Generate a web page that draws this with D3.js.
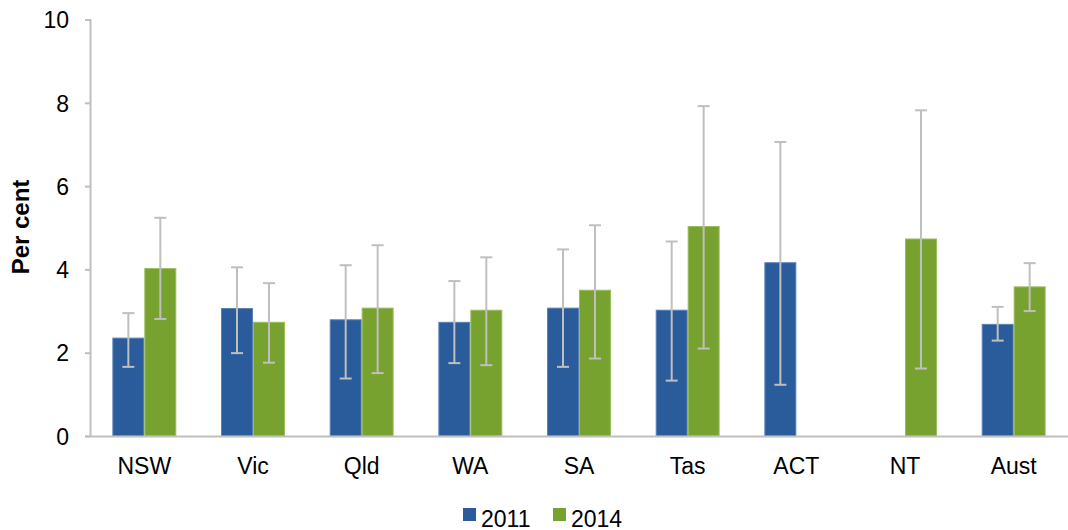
<!DOCTYPE html>
<html>
<head>
<meta charset="utf-8">
<script src="https://cdn.jsdelivr.net/npm/d3@7"></script>
<style>
  body { margin: 0; background: #fff; }
  svg text { font-family: "Liberation Sans", Arial, sans-serif; fill: #000; }
</style>
</head>
<body>
<div id="chart"></div>
<script>
// categories and series
var states = ["NSW", "Vic", "Qld", "WA", "SA", "Tas", "ACT", "NT", "Aust"];
var years = ["2011", "2014"];
var colors = ["#2a5b9b", "#78a22f"];
var strokes = ["#5a80b6", "#98bc5c"];

// values with lower / upper confidence bounds (null = not published)
var val2011 = [2.35, 3.06, 2.79, 2.73, 3.07, 3.02, 4.16, null, 2.68];
var lo2011  = [1.66, 1.99, 1.38, 1.75, 1.66, 1.33, 1.23, null, 2.29];
var hi2011  = [2.95, 4.05, 4.10, 3.72, 4.48, 4.67, 7.06, null, 3.10];
var val2014 = [4.02, 2.73, 3.07, 3.02, 3.50, 5.03, null, 4.73, 3.58];
var lo2014  = [2.81, 1.76, 1.51, 1.70, 1.86, 2.10, null, 1.62, 3.00];
var hi2014  = [5.24, 3.67, 4.58, 4.29, 5.06, 7.92, null, 7.82, 4.15];
var yTicks = [0, 2, 4, 6, 8, 10];

var width = 1068, height = 530;
var margin = {left: 90, right: 0, top: 19.5, bottom: 94};

var svg = d3.select("#chart").append("svg")
    .attr("width", width).attr("height", height);

var x = d3.scaleBand()
    .domain(states)
    .range([margin.left, width - margin.right])
    .padding(0);

var xs = d3.scaleBand()
    .domain(years)
    .range([0, x.bandwidth()])
    .paddingInner(0)
    .paddingOuter(0.7);

var y = d3.scaleLinear()
    .domain([0, 10])
    .range([height - margin.bottom, margin.top]);

// build rows
var rows = [];
states.forEach(function(s, i) {
    rows.push({state: s, year: "2011", k: 0, v: val2011[i], lo: lo2011[i], hi: hi2011[i]});
    rows.push({state: s, year: "2014", k: 1, v: val2014[i], lo: lo2014[i], hi: hi2014[i]});
});
rows = rows.filter(function(d) { return d.v != null; });

// bars
svg.append("g")
    .selectAll("rect")
    .data(rows)
    .enter()
    .append("rect")
        .attr("x", function(d) { return x(d.state) + xs(d.year) + 0.5; })
        .attr("y", function(d) { return y(d.v); })
        .attr("width", xs.bandwidth() - 1)
        .attr("height", function(d) { return y(0) - y(d.v); })
        .attr("fill", function(d) { return colors[d.k]; })
        .attr("stroke", function(d) { return strokes[d.k]; })
        .attr("stroke-width", 1);

// error bars
var eb = svg.append("g")
    .attr("stroke", "#bfbfbf")
    .attr("stroke-width", 2)
    .selectAll("g")
    .data(rows)
    .enter()
    .append("g")
        .attr("transform", function(d) {
            return "translate(" + (x(d.state) + xs(d.year) + xs.bandwidth() / 2) + ",0)";
        });
eb.append("line")
    .attr("y1", function(d) { return y(d.lo); })
    .attr("y2", function(d) { return y(d.hi); });
eb.append("line")
    .attr("x1", -6).attr("x2", 6)
    .attr("y1", function(d) { return y(d.lo); })
    .attr("y2", function(d) { return y(d.lo); });
eb.append("line")
    .attr("x1", -6).attr("x2", 6)
    .attr("y1", function(d) { return y(d.hi); })
    .attr("y2", function(d) { return y(d.hi); });

// y axis
var yAxis = svg.append("g")
    .attr("transform", "translate(" + margin.left + ",0)")
    .call(d3.axisLeft(y).tickValues(yTicks).tickSize(5).tickPadding(16));
yAxis.select(".domain").attr("stroke", "#bfbfbf").attr("stroke-width", 2);
yAxis.selectAll(".tick line").attr("stroke", "#bfbfbf").attr("stroke-width", 2);
yAxis.selectAll(".tick text")
    .style("font-size", "23px")
    .attr("dy", "0.36em");

// x axis
var xAxis = svg.append("g")
    .attr("transform", "translate(0," + y(0) + ")")
    .call(d3.axisBottom(x).tickSize(0).tickPadding(22));
xAxis.select(".domain").attr("stroke", "#bfbfbf").attr("stroke-width", 2);
xAxis.selectAll(".tick text").style("font-size", "23px");

// y label
svg.append("text")
    .attr("transform", "translate(29," + 227 + ") rotate(-90)")
    .attr("text-anchor", "middle")
    .style("font-size", "24px")
    .style("font-weight", "bold")
    .text("Per cent");

// legend
var legX = [463, 553];
var leg = svg.append("g")
    .selectAll("g")
    .data(years)
    .enter()
    .append("g")
        .attr("transform", function(d, i) { return "translate(" + legX[i] + ",508)"; });
leg.append("rect")
    .attr("width", 13).attr("height", 13)
    .attr("fill", function(d, i) { return colors[i]; });
leg.append("text")
    .attr("x", 18).attr("y", 18.5)
    .style("font-size", "23px")
    .text(function(d) { return d; });
</script>
</body>
</html>
